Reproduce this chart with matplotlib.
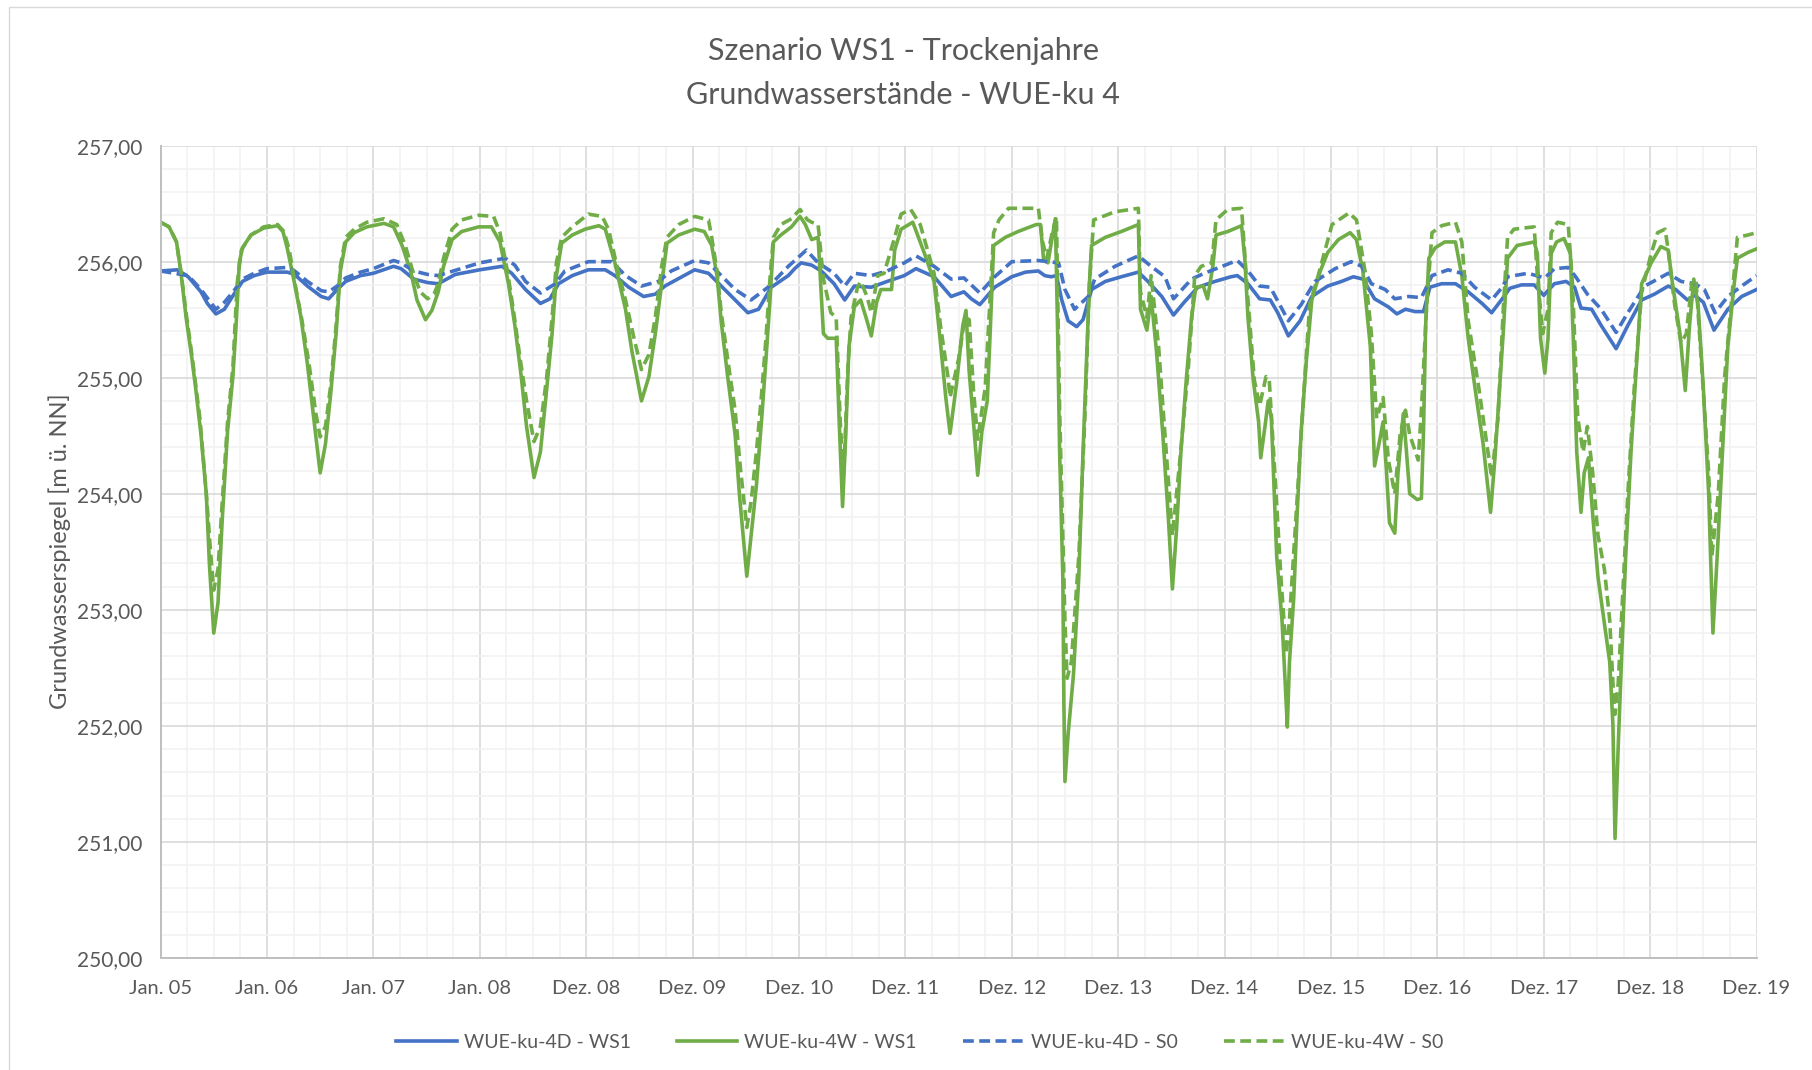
import matplotlib
matplotlib.use("Agg")
import matplotlib.pyplot as plt
from matplotlib.ticker import MultipleLocator, FuncFormatter
from matplotlib.patches import Rectangle

# ---------------- data (x in label-interval units: 0 = "Jan. 05", 15 = "Dez. 19") ----------------
x_labels = ["Jan. 05", "Jan. 06", "Jan. 07", "Jan. 08", "Dez. 08", "Dez. 09", "Dez. 10",
            "Dez. 11", "Dez. 12", "Dez. 13", "Dez. 14", "Dez. 15", "Dez. 16", "Dez. 17",
            "Dez. 18", "Dez. 19"]

ws1_4d = [(0.00,255.92),(0.16,255.93),(0.26,255.87),(0.38,255.74),(0.44,255.64),(0.52,255.55),(0.60,255.59),(0.69,255.72),(0.77,255.83),(0.88,255.88),(1.00,255.91),(1.19,255.91),(1.26,255.89),(1.38,255.79),(1.51,255.70),(1.58,255.68),(1.66,255.76),(1.74,255.83),(1.88,255.88),(2.00,255.90),(2.19,255.96),(2.26,255.94),(2.38,255.85),(2.51,255.82),(2.61,255.81),(2.77,255.89),(3.00,255.93),(3.21,255.96),(3.30,255.90),(3.43,255.76),(3.57,255.64),(3.66,255.68),(3.74,255.81),(3.87,255.88),(4.02,255.93),(4.18,255.93),(4.27,255.88),(4.40,255.78),(4.54,255.70),(4.65,255.72),(4.74,255.79),(4.90,255.87),(5.02,255.93),(5.15,255.90),(5.27,255.79),(5.40,255.67),(5.52,255.56),(5.62,255.59),(5.74,255.78),(5.90,255.88),(5.96,255.94),(6.02,255.99),(6.12,255.97),(6.21,255.92),(6.33,255.81),(6.43,255.67),(6.52,255.79),(6.68,255.78),(6.83,255.83),(6.99,255.88),(7.10,255.94),(7.27,255.87),(7.43,255.70),(7.55,255.74),(7.62,255.68),(7.70,255.63),(7.84,255.78),(8.00,255.87),(8.13,255.91),(8.25,255.92),(8.31,255.88),(8.37,255.87),(8.42,255.88),(8.47,255.67),(8.53,255.49),(8.61,255.44),(8.67,255.50),(8.75,255.76),(8.88,255.83),(9.03,255.87),(9.19,255.91),(9.28,255.83),(9.41,255.70),(9.52,255.54),(9.62,255.65),(9.75,255.78),(9.91,255.83),(10.06,255.87),(10.12,255.88),(10.22,255.81),(10.33,255.68),(10.43,255.67),(10.50,255.56),(10.60,255.36),(10.71,255.49),(10.82,255.70),(10.97,255.79),(11.10,255.83),(11.21,255.87),(11.30,255.85),(11.41,255.68),(11.54,255.61),(11.62,255.55),(11.70,255.59),(11.79,255.57),(11.87,255.57),(11.93,255.78),(12.04,255.81),(12.17,255.81),(12.29,255.74),(12.42,255.64),(12.51,255.56),(12.61,255.68),(12.68,255.77),(12.79,255.80),(12.91,255.80),(13.00,255.71),(13.10,255.81),(13.21,255.83),(13.29,255.78),(13.35,255.60),(13.45,255.59),(13.54,255.45),(13.68,255.25),(13.79,255.45),(13.92,255.67),(14.04,255.72),(14.17,255.79),(14.24,255.76),(14.35,255.67),(14.42,255.71),(14.50,255.65),(14.60,255.41),(14.73,255.59),(14.86,255.70),(15.00,255.76)]

ws1_4w = [(0.00,256.34),(0.08,256.30),(0.15,256.17),(0.19,255.92),(0.24,255.52),(0.29,255.20),(0.33,254.91),(0.38,254.51),(0.43,254.00),(0.46,253.38),(0.50,252.80),(0.54,253.06),(0.58,253.78),(0.63,254.54),(0.68,255.01),(0.71,255.45),(0.74,255.99),(0.77,256.12),(0.85,256.23),(0.97,256.29),(1.10,256.31),(1.15,256.26),(1.19,256.12),(1.26,255.81),(1.32,255.52),(1.38,255.12),(1.44,254.65),(1.50,254.18),(1.55,254.43),(1.60,254.87),(1.65,255.38),(1.69,255.92),(1.74,256.17),(1.82,256.25),(1.94,256.30),(2.10,256.33),(2.19,256.30),(2.27,256.14),(2.35,255.92),(2.41,255.67),(2.49,255.50),(2.55,255.58),(2.61,255.74),(2.66,255.96),(2.74,256.19),(2.83,256.26),(2.99,256.30),(3.11,256.30),(3.19,256.17),(3.27,255.81),(3.33,255.45),(3.39,255.01),(3.44,254.58),(3.51,254.14),(3.57,254.36),(3.63,254.91),(3.68,255.38),(3.72,255.88),(3.77,256.16),(3.87,256.23),(3.99,256.28),(4.12,256.31),(4.18,256.28),(4.27,255.99),(4.37,255.59),(4.43,255.23),(4.52,254.80),(4.59,255.01),(4.65,255.38),(4.71,255.81),(4.76,256.16),(4.87,256.23),(5.02,256.28),(5.11,256.26),(5.18,256.14),(5.23,255.88),(5.27,255.48),(5.33,255.01),(5.40,254.51),(5.44,254.00),(5.51,253.29),(5.55,253.64),(5.60,254.07),(5.65,254.65),(5.69,255.16),(5.73,255.70),(5.76,256.17),(5.83,256.23),(5.93,256.30),(6.01,256.39),(6.06,256.32),(6.12,256.19),(6.18,256.21),(6.23,255.38),(6.27,255.34),(6.35,255.34),(6.38,254.58),(6.41,253.89),(6.44,254.51),(6.47,255.27),(6.52,255.61),(6.58,255.67),(6.63,255.52),(6.68,255.36),(6.73,255.65),(6.77,255.76),(6.87,255.76),(6.90,256.10),(6.96,256.28),(7.07,256.34),(7.18,256.07),(7.27,255.83),(7.33,255.30),(7.38,254.83),(7.42,254.52),(7.48,254.94),(7.54,255.45),(7.57,255.58),(7.60,255.05),(7.64,254.62),(7.68,254.16),(7.72,254.54),(7.77,254.80),(7.80,255.45),(7.83,256.14),(7.94,256.21),(8.06,256.26),(8.23,256.32),(8.27,256.32),(8.30,256.01),(8.34,255.99),(8.38,256.21),(8.41,256.37),(8.43,255.45),(8.45,254.36),(8.48,253.28),(8.49,252.19),(8.50,251.52),(8.53,251.93),(8.58,252.44),(8.63,253.28),(8.67,254.36),(8.70,255.09),(8.73,255.81),(8.75,256.14),(8.88,256.21),(9.03,256.26),(9.19,256.32),(9.21,255.59),(9.27,255.41),(9.31,255.70),(9.36,255.23),(9.42,254.51),(9.47,253.82),(9.51,253.18),(9.55,253.71),(9.59,254.36),(9.64,254.98),(9.69,255.52),(9.73,255.78),(9.80,255.79),(9.84,255.68),(9.89,255.96),(9.92,256.23),(10.03,256.26),(10.16,256.31),(10.19,256.03),(10.22,255.52),(10.27,254.98),(10.32,254.62),(10.34,254.31),(10.38,254.58),(10.41,254.80),(10.44,254.65),(10.46,254.18),(10.49,253.46),(10.54,252.91),(10.57,252.37),(10.59,251.99),(10.61,252.55),(10.65,253.10),(10.68,253.78),(10.72,254.54),(10.77,255.16),(10.82,255.67),(10.90,255.92),(10.97,256.08),(11.07,256.19),(11.18,256.25),(11.24,256.19),(11.30,255.92),(11.37,255.27),(11.41,254.24),(11.46,254.47),(11.49,254.62),(11.52,254.22),(11.55,253.75),(11.60,253.66),(11.63,254.18),(11.68,254.69),(11.71,254.36),(11.74,254.00),(11.81,253.95),(11.85,253.96),(11.87,254.54),(11.89,255.45),(11.92,256.03),(11.98,256.12),(12.07,256.17),(12.17,256.17),(12.23,255.88),(12.29,255.34),(12.36,254.87),(12.43,254.43),(12.50,253.84),(12.54,254.29),(12.57,254.70),(12.62,255.40),(12.66,256.03),(12.75,256.14),(12.91,256.17),(12.94,256.07),(12.97,255.34),(13.01,255.04),(13.04,255.34),(13.07,256.07),(13.12,256.17),(13.19,256.20),(13.25,256.07),(13.28,255.27),(13.31,254.36),(13.35,253.84),(13.38,254.18),(13.42,254.31),(13.46,253.82),(13.51,253.28),(13.57,252.88),(13.62,252.55),(13.65,252.01),(13.67,251.03),(13.70,251.83),(13.73,252.55),(13.77,253.46),(13.82,254.36),(13.87,255.09),(13.92,255.81),(14.01,255.99),(14.10,256.13),(14.17,256.10),(14.21,255.81),(14.28,255.38),(14.33,254.89),(14.37,255.45),(14.41,255.85),(14.45,255.63),(14.50,254.91),(14.55,254.00),(14.59,252.80),(14.63,253.46),(14.68,254.36),(14.73,255.27),(14.79,255.81),(14.82,256.03),(14.92,256.08),(15.00,256.11)]

s0_4d = [(0.00,255.92),(0.26,255.88),(0.38,255.76),(0.52,255.59),(0.60,255.65),(0.69,255.75),(0.77,255.85),(0.88,255.90),(1.00,255.94),(1.19,255.95),(1.26,255.92),(1.38,255.83),(1.51,255.75),(1.58,255.74),(1.66,255.79),(1.74,255.86),(1.88,255.91),(2.00,255.94),(2.19,256.01),(2.26,255.99),(2.38,255.92),(2.51,255.89),(2.61,255.88),(3.00,255.99),(3.24,256.03),(3.33,255.97),(3.43,255.83),(3.57,255.73),(3.71,255.81),(3.80,255.92),(4.02,256.00),(4.24,256.00),(4.37,255.88),(4.52,255.79),(4.68,255.83),(4.80,255.92),(5.02,256.01),(5.15,255.99),(5.27,255.88),(5.40,255.76),(5.55,255.67),(5.71,255.78),(5.90,255.96),(6.07,256.10),(6.18,255.99),(6.33,255.90),(6.43,255.79),(6.52,255.90),(6.68,255.88),(6.83,255.92),(6.99,255.99),(7.10,256.05),(7.27,255.96),(7.43,255.85),(7.55,255.86),(7.70,255.73),(7.84,255.87),(8.00,256.00),(8.25,256.01),(8.44,255.99),(8.50,255.76),(8.59,255.59),(8.72,255.70),(8.78,255.85),(8.97,255.96),(9.19,256.05),(9.31,255.96),(9.44,255.87),(9.52,255.68),(9.69,255.85),(9.81,255.90),(10.06,255.99),(10.12,256.01),(10.22,255.92),(10.33,255.79),(10.43,255.78),(10.60,255.49),(10.72,255.63),(10.85,255.83),(11.04,255.94),(11.19,256.00),(11.29,255.96),(11.38,255.81),(11.51,255.76),(11.60,255.68),(11.73,255.70),(11.85,255.69),(11.95,255.88),(12.10,255.93),(12.23,255.90),(12.35,255.78),(12.51,255.67),(12.61,255.78),(12.66,255.87),(12.85,255.90),(13.01,255.86),(13.10,255.94),(13.23,255.95),(13.30,255.87),(13.41,255.72),(13.54,255.59),(13.68,255.39),(13.79,255.56),(13.95,255.79),(14.17,255.90),(14.29,255.83),(14.42,255.81),(14.51,255.76),(14.61,255.56),(14.73,255.70),(14.86,255.79),(15.00,255.88)]

s0_4w = [(0.00,256.34),(0.08,256.30),(0.15,256.17),(0.19,255.92),(0.24,255.56),(0.30,255.16),(0.37,254.65),(0.43,254.00),(0.48,253.38),(0.50,253.17),(0.54,253.35),(0.58,253.93),(0.63,254.62),(0.68,255.09),(0.72,255.81),(0.76,256.10),(0.85,256.23),(0.97,256.30),(1.10,256.32),(1.16,256.26),(1.21,256.10),(1.27,255.78),(1.33,255.49),(1.40,255.09),(1.46,254.69),(1.50,254.49),(1.55,254.58),(1.60,254.94),(1.65,255.45),(1.69,255.96),(1.74,256.21),(1.82,256.28),(1.94,256.34),(2.10,256.37),(2.22,256.32),(2.30,256.14),(2.37,255.92),(2.44,255.74),(2.51,255.68),(2.57,255.72),(2.61,255.81),(2.66,256.03),(2.74,256.28),(2.83,256.36),(2.99,256.40),(3.13,256.39),(3.19,256.25),(3.26,255.92),(3.32,255.56),(3.38,255.16),(3.44,254.80),(3.51,254.45),(3.57,254.58),(3.63,255.01),(3.68,255.52),(3.72,255.99),(3.77,256.21),(3.87,256.30),(4.02,256.41),(4.15,256.39),(4.21,256.28),(4.29,255.96),(4.37,255.67),(4.45,255.34),(4.52,255.07),(4.59,255.20),(4.65,255.52),(4.71,255.96),(4.76,256.21),(4.87,256.32),(5.02,256.39),(5.15,256.36),(5.18,256.21),(5.23,255.92),(5.27,255.56),(5.33,255.16),(5.40,254.72),(5.45,254.22),(5.51,253.71),(5.55,253.93),(5.60,254.36),(5.65,254.87),(5.69,255.34),(5.73,255.88),(5.76,256.21),(5.83,256.32),(5.93,256.37),(6.01,256.45),(6.08,256.36),(6.12,256.34),(6.18,256.32),(6.23,255.85),(6.30,255.56),(6.35,255.52),(6.39,254.58),(6.42,254.15),(6.46,255.09),(6.49,255.52),(6.55,255.78),(6.58,255.83),(6.64,255.70),(6.68,255.56),(6.74,255.88),(6.80,255.90),(6.90,256.21),(6.96,256.41),(7.05,256.45),(7.14,256.32),(7.27,255.90),(7.33,255.45),(7.40,255.01),(7.42,254.83),(7.50,255.16),(7.56,255.52),(7.60,255.50),(7.64,254.90),(7.68,254.47),(7.75,254.91),(7.83,256.25),(7.88,256.36),(7.97,256.46),(8.25,256.46),(8.29,256.17),(8.33,256.03),(8.38,256.25),(8.42,256.39),(8.45,254.72),(8.50,252.91),(8.52,252.41),(8.56,252.55),(8.63,253.46),(8.69,254.72),(8.73,255.81),(8.77,256.36),(8.97,256.43),(9.19,256.46),(9.21,255.74),(9.27,255.52),(9.31,255.88),(9.38,255.27),(9.44,254.51),(9.51,253.64),(9.58,254.29),(9.66,255.09),(9.72,255.88),(9.78,255.96),(9.88,255.99),(9.92,256.36),(10.03,256.45),(10.16,256.46),(10.22,255.67),(10.28,254.98),(10.33,254.76),(10.39,255.01),(10.42,254.98),(10.47,254.22),(10.53,253.28),(10.58,252.62),(10.61,252.91),(10.68,253.93),(10.74,254.80),(10.80,255.63),(10.88,255.88),(11.01,256.32),(11.17,256.42),(11.24,256.36),(11.32,255.92),(11.38,255.38),(11.43,254.65),(11.49,254.83),(11.54,254.29),(11.60,254.00),(11.65,254.51),(11.70,254.72),(11.74,254.51),(11.82,254.29),(11.85,254.72),(11.90,255.63),(11.95,256.25),(12.04,256.31),(12.17,256.34),(12.23,256.17),(12.29,255.49),(12.39,254.91),(12.51,254.14),(12.57,254.65),(12.62,255.60),(12.66,256.21),(12.72,256.28),(12.91,256.30),(12.94,255.88),(12.99,255.38),(13.04,255.59),(13.07,256.25),(13.13,256.34),(13.23,256.32),(13.27,255.81),(13.32,254.65),(13.37,254.36),(13.41,254.58),(13.46,254.18),(13.51,253.64),(13.57,253.35),(13.62,252.91),(13.65,252.37),(13.67,252.10),(13.70,252.37),(13.74,253.09),(13.79,254.00),(13.85,254.91),(13.92,255.74),(14.01,256.07),(14.07,256.25),(14.14,256.28),(14.17,256.10),(14.23,255.63),(14.29,255.30),(14.34,255.38),(14.39,255.81),(14.43,255.85),(14.48,255.16),(14.55,254.18),(14.58,253.46),(14.64,254.00),(14.70,255.01),(14.78,255.81),(14.82,256.21),(14.92,256.23),(15.00,256.25)]

series_names = ["WUE-ku-4D - WS1", "WUE-ku-4W - WS1", "WUE-ku-4D - S0", "WUE-ku-4W - S0"]

# ---------------- styling ----------------
BLUE = "#4472C4"
GREEN = "#70AD47"
TXT = "#595959"

plt.rcParams["font.family"] = ["Lato", "DejaVu Sans"]

fig = plt.figure(figsize=(18.12, 10.70), dpi=100)
ax = fig.add_axes([0.0886, 0.1047, 0.8808, 0.7592])

series = [ws1_4d, ws1_4w, s0_4d, s0_4w]
colors = [BLUE, GREEN, BLUE, GREEN]
styles = ["-", "-", (0, (3, 1.5)), (0, (3, 1.5))]
handles = []
for data, col, ls, name in zip(series, colors, styles, series_names):
    xs = [p[0] for p in data]
    ys = [p[1] for p in data]
    h, = ax.plot(xs, ys, color=col, lw=2.6, ls=ls, label=name,
                 solid_joinstyle="round", dash_joinstyle="round", dash_capstyle="butt")
    handles.append(h)

ax.set_xlim(0, 15)
ax.set_ylim(250, 257)
ax.set_xticks(range(len(x_labels)))
ax.set_xticklabels(x_labels)
ax.xaxis.set_minor_locator(MultipleLocator(0.25))
ax.yaxis.set_major_locator(MultipleLocator(1))
ax.yaxis.set_minor_locator(MultipleLocator(0.2))
ax.yaxis.set_major_formatter(FuncFormatter(lambda v, p: f"{v:.2f}".replace(".", ",")))

ax.set_axisbelow(True)
ax.grid(which="minor", color="#F2F2F2", lw=1.2)
ax.grid(which="major", color="#D9D9D9", lw=1.2)
ax.tick_params(which="both", length=0)
ax.tick_params(axis="x", pad=16, labelsize=14.5, labelcolor=TXT)
ax.tick_params(axis="y", pad=13, labelsize=15, labelcolor=TXT)
for s in ["top", "right"]:
    ax.spines[s].set_visible(False)
for s in ["left", "bottom"]:
    ax.spines[s].set_color("#BFBFBF")
    ax.spines[s].set_linewidth(1.4)

fig.text(903 / 1812, 1 - 51 / 1070, "Szenario WS1 - Trockenjahre", ha="center", va="center",
         fontsize=22, color=TXT)
fig.text(903 / 1812, 1 - 95 / 1070, "Grundwasserstände - WUE-ku 4", ha="center", va="center",
         fontsize=22, color=TXT)
fig.text(59.5 / 1812, 1 - 551 / 1070, "Grundwasserspiegel [m ü. NN]", rotation=90,
         ha="center", va="center", fontsize=17, color=TXT)

leg = fig.legend(handles, series_names, loc="center", bbox_to_anchor=(920 / 1812, 1 - 1042 / 1070),
                 ncol=4, frameon=False, fontsize=14, handlelength=3.1, handletextpad=0.35,
                 columnspacing=2.4)
for t in leg.get_texts():
    t.set_color(TXT)

fig.patches.append(Rectangle((9 / 1812, -0.01), 1.0, 1 - 7 / 1070 + 0.01, transform=fig.transFigure,
                             fill=False, ec="#D9D9D9", lw=1.0))

fig.savefig("out.png", dpi=100)
